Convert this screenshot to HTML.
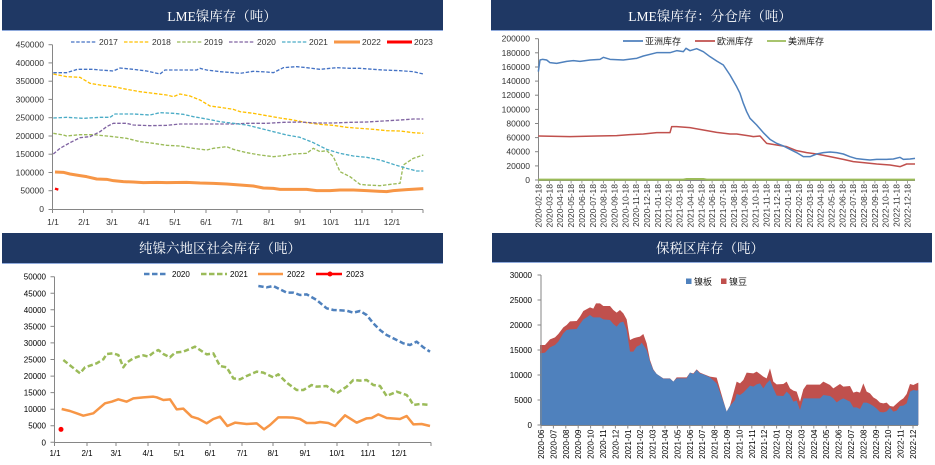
<!DOCTYPE html>
<html>
<head>
<meta charset="utf-8">
<style>
html,body{margin:0;padding:0;background:#fff;}
svg{display:block;}
.ax{font-family:"Liberation Sans",sans-serif;font-size:8.5px;fill:#333;}
.ax3{font-family:"Liberation Sans",sans-serif;font-size:8px;fill:#000;}
.ttl{font-family:"Liberation Serif","Noto Serif CJK SC",serif;font-size:13.5px;fill:#fff;}
.lg{font-family:"Liberation Sans","Noto Sans CJK SC",sans-serif;font-size:9px;fill:#222;}
</style>
</head>
<body>
<svg width="935" height="465" viewBox="0 0 935 465" xmlns="http://www.w3.org/2000/svg">
<rect width="935" height="465" fill="#fff"/>

<!-- ================= Chart 1 ================= -->
<rect x="2" y="0" width="441" height="30" fill="#1F3864"/>
<line x1="2" y1="30.5" x2="443" y2="30.5" stroke="#8FAADC" stroke-width="1"/>
<text class="ttl" x="222" y="21" text-anchor="middle">LME镍库存（吨）</text>

<!-- legend -->
<g stroke-width="1.3" stroke-dasharray="3.5 1.7">
<line x1="71" y1="42" x2="97" y2="42" stroke="#4472C4"/>
<line x1="124" y1="42" x2="150" y2="42" stroke="#FFC000"/>
<line x1="177" y1="42" x2="202" y2="42" stroke="#9BBB59"/>
<line x1="229" y1="42" x2="255" y2="42" stroke="#8064A2"/>
<line x1="282" y1="42" x2="307" y2="42" stroke="#4BACC6"/>
</g>
<line x1="334" y1="42" x2="360" y2="42" stroke="#F79646" stroke-width="3"/>
<line x1="387" y1="42" x2="412" y2="42" stroke="#FF0000" stroke-width="3"/>
<g class="ax">
<text x="99" y="45">2017</text>
<text x="152" y="45">2018</text>
<text x="204" y="45">2019</text>
<text x="257" y="45">2020</text>
<text x="309" y="45">2021</text>
<text x="362" y="45">2022</text>
<text x="414" y="45">2023</text>
</g>

<!-- axes -->
<g stroke="#868686" stroke-width="1">
<line x1="52.5" y1="44.7" x2="52.5" y2="209.5"/>
<line x1="52" y1="209.5" x2="423" y2="209.5"/>
<line x1="48.5" y1="209.5" x2="52.5" y2="209.5"/>
<line x1="48.5" y1="190.7" x2="52.5" y2="190.7"/>
<line x1="48.5" y1="172.5" x2="52.5" y2="172.5"/>
<line x1="48.5" y1="154.2" x2="52.5" y2="154.2"/>
<line x1="48.5" y1="136" x2="52.5" y2="136"/>
<line x1="48.5" y1="117.7" x2="52.5" y2="117.7"/>
<line x1="48.5" y1="99.4" x2="52.5" y2="99.4"/>
<line x1="48.5" y1="81.2" x2="52.5" y2="81.2"/>
<line x1="48.5" y1="62.9" x2="52.5" y2="62.9"/>
<line x1="48.5" y1="44.7" x2="52.5" y2="44.7"/>
<line x1="52.5" y1="209.5" x2="52.5" y2="213"/>
<line x1="83.5" y1="209.5" x2="83.5" y2="213"/>
<line x1="112" y1="209.5" x2="112" y2="213"/>
<line x1="144" y1="209.5" x2="144" y2="213"/>
<line x1="174.5" y1="209.5" x2="174.5" y2="213"/>
<line x1="206" y1="209.5" x2="206" y2="213"/>
<line x1="237" y1="209.5" x2="237" y2="213"/>
<line x1="269" y1="209.5" x2="269" y2="213"/>
<line x1="300" y1="209.5" x2="300" y2="213"/>
<line x1="330.5" y1="209.5" x2="330.5" y2="213"/>
<line x1="362" y1="209.5" x2="362" y2="213"/>
<line x1="392" y1="209.5" x2="392" y2="213"/>
<line x1="423" y1="209.5" x2="423" y2="213"/>
</g>
<g class="ax" text-anchor="end">
<text x="44" y="212">0</text>
<text x="44" y="193.7">50000</text>
<text x="44" y="175.5">100000</text>
<text x="44" y="157.2">150000</text>
<text x="44" y="139">200000</text>
<text x="44" y="120.7">250000</text>
<text x="44" y="102.4">300000</text>
<text x="44" y="84.2">350000</text>
<text x="44" y="65.9">400000</text>
<text x="44" y="47.7">450000</text>
</g>
<g class="ax" text-anchor="middle">
<text x="53" y="225">1/1</text>
<text x="84" y="225">2/1</text>
<text x="112" y="225">3/1</text>
<text x="144" y="225">4/1</text>
<text x="175" y="225">5/1</text>
<text x="206" y="225">6/1</text>
<text x="237" y="225">7/1</text>
<text x="269" y="225">8/1</text>
<text x="300" y="225">9/1</text>
<text x="331" y="225">10/1</text>
<text x="362" y="225">11/1</text>
<text x="392" y="225">12/1</text>
</g>

<g transform="scale(0.333333)" fill="none" stroke-linejoin="round">
<g stroke-width="4" stroke-dasharray="10.5 5">
<polyline stroke="#4472C4" points="160,218 200,218 232,208 280,208 300,210 340,213 360,204 400,208 440,213 480,222 495,210 540,210 590,210 600,205 620,210 660,215 700,218 720,220 760,214 800,216 820,218 850,203 890,200 920,203 960,208 990,205 1010,203 1050,205 1080,205 1120,208 1150,210 1200,212 1240,215 1270,222"/>
<polyline stroke="#FFC000" points="160,222 200,230 240,232 270,250 300,255 340,260 380,268 420,275 460,280 500,285 520,290 540,282 570,288 600,300 630,318 660,322 700,328 720,335 760,340 800,347 840,354 880,360 920,368 960,373 1000,376 1040,382 1080,385 1120,388 1160,392 1200,393 1240,398 1270,400"/>
<polyline stroke="#9BBB59" points="160,400 190,405 200,408 240,404 280,404 320,408 340,410 380,415 420,425 460,430 500,436 540,438 580,445 620,450 640,445 680,440 700,448 740,458 780,465 820,470 850,467 880,462 920,460 940,445 960,455 980,452 1000,470 1020,515 1050,530 1080,553 1100,555 1140,557 1180,552 1200,550 1210,495 1240,475 1270,465"/>
<polyline stroke="#8064A2" points="160,462 180,445 210,428 240,413 270,410 300,395 320,380 340,370 380,370 400,375 450,377 500,376 540,372 600,372 660,372 700,372 740,370 800,370 850,367 900,366 950,369 1000,369 1050,367 1100,366 1150,363 1200,360 1240,357 1270,357"/>
<polyline stroke="#4BACC6" points="160,354 200,352 250,355 300,352 330,352 345,342 400,342 450,345 480,338 520,340 550,343 580,350 620,357 660,365 700,370 740,375 780,385 820,395 860,405 900,412 940,428 980,448 1020,460 1060,468 1100,472 1140,480 1180,493 1220,505 1250,513 1270,513"/>
</g>
<polyline stroke="#F79646" stroke-width="9" points="165,516 190,517 210,522 240,527 260,530 290,537 320,538 340,542 370,545 400,546 430,548 470,547 500,548 560,547 600,549 640,550 680,552 720,555 760,558 790,564 820,565 840,568 880,568 920,568 950,572 990,572 1020,570 1060,570 1100,572 1140,574 1160,575 1180,572 1220,569 1270,566"/>
<polyline stroke="#FF0000" stroke-width="7" points="165,566 175,569"/>
</g>

<!-- ================= Chart 2 ================= -->
<rect x="491" y="0" width="441" height="30" fill="#1F3864"/>
<line x1="491" y1="30.5" x2="932" y2="30.5" stroke="#8FAADC" stroke-width="1"/>
<text class="ttl" x="710" y="21" text-anchor="middle">LME镍库存：分仓库（吨）</text>

<line x1="623" y1="41" x2="643" y2="41" stroke="#4F81BD" stroke-width="1.8"/>
<line x1="695" y1="41" x2="715" y2="41" stroke="#C0504D" stroke-width="1.8"/>
<line x1="767" y1="41" x2="786" y2="41" stroke="#9BBB59" stroke-width="1.8"/>
<text class="lg" x="645" y="44.5">亚洲库存</text>
<text class="lg" x="717" y="44.5">欧洲库存</text>
<text class="lg" x="788" y="44.5">美洲库存</text>

<g stroke="#868686" stroke-width="1">
<line x1="538.5" y1="38.7" x2="538.5" y2="180"/>
<line x1="538" y1="180.5" x2="915" y2="180.5"/>
<line x1="535" y1="180" x2="538.5" y2="180"/>
<line x1="535" y1="165.9" x2="538.5" y2="165.9"/>
<line x1="535" y1="151.7" x2="538.5" y2="151.7"/>
<line x1="535" y1="137.6" x2="538.5" y2="137.6"/>
<line x1="535" y1="123.5" x2="538.5" y2="123.5"/>
<line x1="535" y1="109.4" x2="538.5" y2="109.4"/>
<line x1="535" y1="95.2" x2="538.5" y2="95.2"/>
<line x1="535" y1="81.1" x2="538.5" y2="81.1"/>
<line x1="535" y1="67" x2="538.5" y2="67"/>
<line x1="535" y1="52.8" x2="538.5" y2="52.8"/>
<line x1="535" y1="38.7" x2="538.5" y2="38.7"/>
</g>
<g class="ax" text-anchor="end">
<text x="530" y="183">0</text>
<text x="530" y="168.9">20000</text>
<text x="530" y="154.7">40000</text>
<text x="530" y="140.6">60000</text>
<text x="530" y="126.5">80000</text>
<text x="530" y="112.4">100000</text>
<text x="530" y="98.2">120000</text>
<text x="530" y="84.1">140000</text>
<text x="530" y="70">160000</text>
<text x="530" y="55.8">180000</text>
<text x="530" y="41.7">200000</text>
</g>
<g stroke="#868686" stroke-width="0.8">
<path d="M538.5 180v3.5M549.4 180v3.5M560.2 180v3.5M571.1 180v3.5M581.9 180v3.5M592.8 180v3.5M603.6 180v3.5M614.5 180v3.5M625.3 180v3.5M636.2 180v3.5M647 180v3.5M657.9 180v3.5M668.7 180v3.5M679.6 180v3.5M690.4 180v3.5M701.3 180v3.5M712.1 180v3.5M723 180v3.5M733.8 180v3.5M744.7 180v3.5M755.5 180v3.5M766.4 180v3.5M777.2 180v3.5M788.1 180v3.5M798.9 180v3.5M809.8 180v3.5M820.6 180v3.5M831.5 180v3.5M842.3 180v3.5M853.2 180v3.5M864 180v3.5M874.9 180v3.5M885.7 180v3.5M896.6 180v3.5M907.4 180v3.5"/>
</g>
<g class="ax" font-size="8.5" text-anchor="end">
<text transform="translate(541.5,184) rotate(-90)">2020-02-18</text>
<text transform="translate(552.4,184) rotate(-90)">2020-03-18</text>
<text transform="translate(563.2,184) rotate(-90)">2020-04-18</text>
<text transform="translate(574.1,184) rotate(-90)">2020-05-18</text>
<text transform="translate(584.9,184) rotate(-90)">2020-06-18</text>
<text transform="translate(595.8,184) rotate(-90)">2020-07-18</text>
<text transform="translate(606.6,184) rotate(-90)">2020-08-18</text>
<text transform="translate(617.5,184) rotate(-90)">2020-09-18</text>
<text transform="translate(628.3,184) rotate(-90)">2020-10-18</text>
<text transform="translate(639.2,184) rotate(-90)">2020-11-18</text>
<text transform="translate(650,184) rotate(-90)">2020-12-18</text>
<text transform="translate(660.9,184) rotate(-90)">2021-01-18</text>
<text transform="translate(671.7,184) rotate(-90)">2021-02-18</text>
<text transform="translate(682.6,184) rotate(-90)">2021-03-18</text>
<text transform="translate(693.4,184) rotate(-90)">2021-04-18</text>
<text transform="translate(704.3,184) rotate(-90)">2021-05-18</text>
<text transform="translate(715.1,184) rotate(-90)">2021-06-18</text>
<text transform="translate(726,184) rotate(-90)">2021-07-18</text>
<text transform="translate(736.8,184) rotate(-90)">2021-08-18</text>
<text transform="translate(747.7,184) rotate(-90)">2021-09-18</text>
<text transform="translate(758.5,184) rotate(-90)">2021-10-18</text>
<text transform="translate(769.4,184) rotate(-90)">2021-11-18</text>
<text transform="translate(780.2,184) rotate(-90)">2021-12-18</text>
<text transform="translate(791.1,184) rotate(-90)">2022-01-18</text>
<text transform="translate(801.9,184) rotate(-90)">2022-02-18</text>
<text transform="translate(812.8,184) rotate(-90)">2022-03-18</text>
<text transform="translate(823.6,184) rotate(-90)">2022-04-18</text>
<text transform="translate(834.5,184) rotate(-90)">2022-05-18</text>
<text transform="translate(845.3,184) rotate(-90)">2022-06-18</text>
<text transform="translate(856.2,184) rotate(-90)">2022-07-18</text>
<text transform="translate(867,184) rotate(-90)">2022-08-18</text>
<text transform="translate(877.9,184) rotate(-90)">2022-09-18</text>
<text transform="translate(888.7,184) rotate(-90)">2022-10-18</text>
<text transform="translate(899.6,184) rotate(-90)">2022-11-18</text>
<text transform="translate(910.4,184) rotate(-90)">2022-12-18</text>
</g>

<g transform="translate(470,0) scale(0.333333)" fill="none" stroke-linejoin="round" stroke-width="4.5">
<polyline stroke="#9BBB59" stroke-width="6" points="205,539 640,539 650,537 700,537 710,539 1335,539"/>
<polyline stroke="#C0504D" points="205,408 300,410 380,408 440,407 480,404 520,402 560,398 600,398 605,380 620,380 660,383 700,390 740,397 780,402 800,402 840,408 850,410 870,408 890,430 920,435 950,440 980,452 1010,458 1040,462 1080,470 1120,478 1150,485 1180,488 1220,492 1260,495 1290,500 1310,492 1335,492"/>
<polyline stroke="#4F81BD" points="205,215 210,180 218,178 230,180 240,188 260,190 290,184 310,182 330,184 360,180 390,178 400,172 420,178 460,180 500,175 520,168 560,158 600,158 620,152 640,155 648,145 660,152 680,146 700,155 720,170 740,183 760,195 780,225 800,260 810,280 820,310 830,335 840,355 860,375 880,398 900,418 920,430 940,438 960,448 980,458 1000,470 1020,470 1040,462 1060,458 1080,456 1100,458 1120,462 1140,470 1160,476 1180,478 1200,480 1220,478 1250,478 1270,477 1290,472 1300,478 1320,477 1335,475"/>
</g>

<!-- ================= Chart 3 ================= -->
<rect x="2" y="233" width="441" height="30" fill="#1F3864"/>
<line x1="2" y1="263.5" x2="443" y2="263.5" stroke="#8FAADC" stroke-width="1"/>
<text class="ttl" x="220" y="253" text-anchor="middle">纯镍六地区社会库存（吨）</text>

<line x1="144" y1="274" x2="168" y2="274" stroke="#4F81BD" stroke-width="2.5" stroke-dasharray="5.5 2.5"/>
<line x1="201" y1="274" x2="227" y2="274" stroke="#9BBB59" stroke-width="2.5" stroke-dasharray="5.5 2.5"/>
<line x1="258" y1="274" x2="283" y2="274" stroke="#F79646" stroke-width="2.5"/>
<line x1="316" y1="274" x2="342" y2="274" stroke="#FF0000" stroke-width="2.5"/>
<circle cx="330" cy="274" r="2.5" fill="#FF0000"/>
<g class="ax3">
<text x="172" y="277">2020</text>
<text x="230" y="277">2021</text>
<text x="287" y="277">2022</text>
<text x="346" y="277">2023</text>
</g>

<g stroke="#868686" stroke-width="1">
<line x1="54.5" y1="276.7" x2="54.5" y2="442.5"/>
<line x1="54" y1="442.5" x2="431" y2="442.5"/>
<path d="M50.5 442.3h4M50.5 425.7h4M50.5 409.2h4M50.5 392.6h4M50.5 376.1h4M50.5 359.5h4M50.5 342.9h4M50.5 326.4h4M50.5 309.8h4M50.5 293.3h4M50.5 276.7h4"/>
<path d="M54.5 442.5v3.5M87 442.5v3.5M116 442.5v3.5M148 442.5v3.5M179 442.5v3.5M210 442.5v3.5M242 442.5v3.5M273 442.5v3.5M305 442.5v3.5M337 442.5v3.5M368 442.5v3.5M399 442.5v3.5M431 442.5v3.5"/>
</g>
<g class="ax3" text-anchor="end">
<text x="46" y="445.3">0</text>
<text x="46" y="428.7">5000</text>
<text x="46" y="412.2">10000</text>
<text x="46" y="395.6">15000</text>
<text x="46" y="379.1">20000</text>
<text x="46" y="362.5">25000</text>
<text x="46" y="345.9">30000</text>
<text x="46" y="329.4">35000</text>
<text x="46" y="312.8">40000</text>
<text x="46" y="296.3">45000</text>
<text x="46" y="279.7">50000</text>
</g>
<g class="ax3" text-anchor="middle">
<text x="55" y="456">1/1</text>
<text x="87" y="456">2/1</text>
<text x="116" y="456">3/1</text>
<text x="148" y="456">4/1</text>
<text x="179" y="456">5/1</text>
<text x="210" y="456">6/1</text>
<text x="242" y="456">7/1</text>
<text x="273" y="456">8/1</text>
<text x="305" y="456">9/1</text>
<text x="337" y="456">10/1</text>
<text x="368" y="456">11/1</text>
<text x="399" y="456">12/1</text>
</g>

<g transform="translate(0,230) scale(0.333333)" fill="none" stroke-linejoin="round">
<polyline stroke="#9BBB59" stroke-width="7.5" stroke-dasharray="16 8" points="190,390 215,410 240,430 255,412 290,400 310,388 320,372 340,370 355,375 370,412 380,398 400,385 420,378 430,376 445,380 460,368 475,360 490,372 510,382 525,368 550,365 585,350 620,373 640,370 660,408 680,412 700,445 720,448 740,438 770,425 790,428 820,442 835,433 860,458 890,480 910,480 935,465 950,470 980,468 1010,490 1040,470 1060,450 1080,452 1100,450 1120,465 1140,468 1160,498 1190,485 1220,495 1230,508 1240,525 1260,522 1290,525"/>
<polyline stroke="#4F81BD" stroke-width="7.5" stroke-dasharray="16 8" points="775,168 800,172 820,168 840,178 860,188 880,188 900,195 920,193 950,210 980,235 1000,240 1040,242 1060,248 1080,243 1100,255 1120,280 1140,300 1160,315 1190,330 1210,340 1230,345 1250,335 1270,352 1290,365"/>
<polyline stroke="#F79646" stroke-width="7.5" points="185,537 210,543 230,550 250,557 280,550 315,520 335,515 355,508 380,515 400,505 430,502 460,500 470,502 490,510 510,508 530,538 550,536 575,560 595,566 620,580 640,567 660,560 682,588 705,578 740,582 770,580 792,598 810,585 835,562 860,562 880,563 900,567 920,579 945,579 960,576 985,579 1005,588 1035,556 1070,578 1100,565 1115,564 1135,553 1160,564 1200,567 1220,558 1240,583 1265,582 1290,588"/>
<circle cx="183" cy="598" r="7.5" fill="#FF0000" stroke="none"/>
</g>

<!-- ================= Chart 4 ================= -->
<rect x="492" y="233" width="440" height="29" fill="#1F3864"/>
<line x1="492" y1="262.5" x2="932" y2="262.5" stroke="#8FAADC" stroke-width="1"/>
<text class="ttl" x="710" y="253" text-anchor="middle">保税区库存（吨）</text>

<rect x="686" y="278.5" width="5.5" height="5.5" fill="#4F81BD"/>
<text class="lg" x="694" y="285">镍板</text>
<rect x="721" y="278.5" width="5.5" height="5.5" fill="#C0504D"/>
<text class="lg" x="729" y="285">镍豆</text>

<g transform="translate(470,230) scale(0.333333)" stroke="none">
<polygon fill="#C0504D" points="210,585 210,345 225,345 240,328 255,322 265,312 280,292 290,285 300,274 320,273 330,260 340,243 360,232 370,236 378,220 390,220 400,228 420,228 430,240 440,248 450,240 460,250 470,268 480,330 490,325 500,322 510,320 520,312 530,340 540,390 550,418 560,432 580,445 600,445 610,455 620,442 650,442 660,428 670,430 680,418 690,428 700,432 720,440 740,443 760,512 770,545 780,527 800,455 810,460 820,450 830,428 850,430 860,425 870,432 880,440 890,445 900,415 910,455 920,463 940,462 950,455 960,475 970,482 980,485 990,515 1000,478 1010,464 1030,464 1050,464 1060,455 1080,465 1090,475 1110,462 1120,470 1140,468 1150,488 1160,485 1170,488 1180,460 1190,485 1200,490 1210,502 1220,508 1230,518 1240,520 1250,518 1260,528 1270,530 1290,512 1300,505 1310,492 1320,462 1330,465 1340,460 1345,458 1345,585"/>
<polygon fill="#4F81BD" points="210,585 210,370 225,368 240,352 255,345 265,335 280,310 290,300 300,298 320,297 330,282 340,268 350,262 360,255 370,262 390,262 400,268 420,270 430,282 440,290 450,278 460,275 470,300 480,365 490,365 500,350 510,345 515,338 530,360 540,395 550,420 560,432 580,446 600,446 610,455 620,445 650,445 660,428 670,432 680,420 690,430 700,433 720,442 740,460 760,515 770,545 780,528 795,510 800,492 810,495 820,488 840,467 850,470 860,463 870,460 880,475 890,460 900,450 910,475 920,497 940,498 950,485 960,495 970,515 980,512 990,540 1000,505 1010,505 1050,505 1060,495 1080,498 1090,505 1100,517 1110,510 1120,505 1140,515 1150,532 1160,532 1170,537 1180,518 1190,518 1200,522 1210,528 1220,536 1230,546 1240,547 1250,544 1260,533 1270,545 1280,542 1290,528 1300,527 1310,520 1320,485 1330,480 1340,482 1345,480 1345,585"/>
</g>

<g stroke="#868686" stroke-width="1">
<line x1="541" y1="275" x2="541" y2="425"/>
<line x1="541" y1="425.5" x2="918" y2="425.5"/>
<path d="M537.5 425h3.5M537.5 400h3.5M537.5 375h3.5M537.5 350h3.5M537.5 325h3.5M537.5 300h3.5M537.5 275h3.5"/>
<path d="M541 425v3.5M553.4 425v3.5M565.8 425v3.5M578.2 425v3.5M590.6 425v3.5M603 425v3.5M615.4 425v3.5M627.8 425v3.5M640.2 425v3.5M652.6 425v3.5M665 425v3.5M677.4 425v3.5M689.8 425v3.5M702.2 425v3.5M714.6 425v3.5M727 425v3.5M739.4 425v3.5M751.8 425v3.5M764.2 425v3.5M776.6 425v3.5M789 425v3.5M801.4 425v3.5M813.8 425v3.5M826.2 425v3.5M838.6 425v3.5M851 425v3.5M863.4 425v3.5M875.8 425v3.5M888.2 425v3.5M900.6 425v3.5M913 425v3.5"/>
</g>
<g class="ax3" text-anchor="end">
<text x="532" y="428">0</text>
<text x="532" y="403">5000</text>
<text x="532" y="378">10000</text>
<text x="532" y="353">15000</text>
<text x="532" y="328">20000</text>
<text x="532" y="303">25000</text>
<text x="532" y="278">30000</text>
</g>
<g class="ax3" font-size="8.5" text-anchor="end">
<text transform="translate(544,429.5) rotate(-90)">2020-06</text>
<text transform="translate(556.4,429.5) rotate(-90)">2020-07</text>
<text transform="translate(568.8,429.5) rotate(-90)">2020-08</text>
<text transform="translate(581.2,429.5) rotate(-90)">2020-09</text>
<text transform="translate(593.6,429.5) rotate(-90)">2020-10</text>
<text transform="translate(606,429.5) rotate(-90)">2020-11</text>
<text transform="translate(618.4,429.5) rotate(-90)">2020-12</text>
<text transform="translate(630.8,429.5) rotate(-90)">2021-01</text>
<text transform="translate(643.2,429.5) rotate(-90)">2021-02</text>
<text transform="translate(655.6,429.5) rotate(-90)">2021-03</text>
<text transform="translate(668,429.5) rotate(-90)">2021-04</text>
<text transform="translate(680.4,429.5) rotate(-90)">2021-05</text>
<text transform="translate(692.8,429.5) rotate(-90)">2021-06</text>
<text transform="translate(705.2,429.5) rotate(-90)">2021-07</text>
<text transform="translate(717.6,429.5) rotate(-90)">2021-08</text>
<text transform="translate(730,429.5) rotate(-90)">2021-09</text>
<text transform="translate(742.4,429.5) rotate(-90)">2021-10</text>
<text transform="translate(754.8,429.5) rotate(-90)">2021-11</text>
<text transform="translate(767.2,429.5) rotate(-90)">2021-12</text>
<text transform="translate(779.6,429.5) rotate(-90)">2022-01</text>
<text transform="translate(792,429.5) rotate(-90)">2022-02</text>
<text transform="translate(804.4,429.5) rotate(-90)">2022-03</text>
<text transform="translate(816.8,429.5) rotate(-90)">2022-04</text>
<text transform="translate(829.2,429.5) rotate(-90)">2022-05</text>
<text transform="translate(841.6,429.5) rotate(-90)">2022-06</text>
<text transform="translate(854,429.5) rotate(-90)">2022-07</text>
<text transform="translate(866.4,429.5) rotate(-90)">2022-08</text>
<text transform="translate(878.8,429.5) rotate(-90)">2022-09</text>
<text transform="translate(891.2,429.5) rotate(-90)">2022-10</text>
<text transform="translate(903.6,429.5) rotate(-90)">2022-11</text>
<text transform="translate(916,429.5) rotate(-90)">2022-12</text>
</g>
</svg>
</body>
</html>
